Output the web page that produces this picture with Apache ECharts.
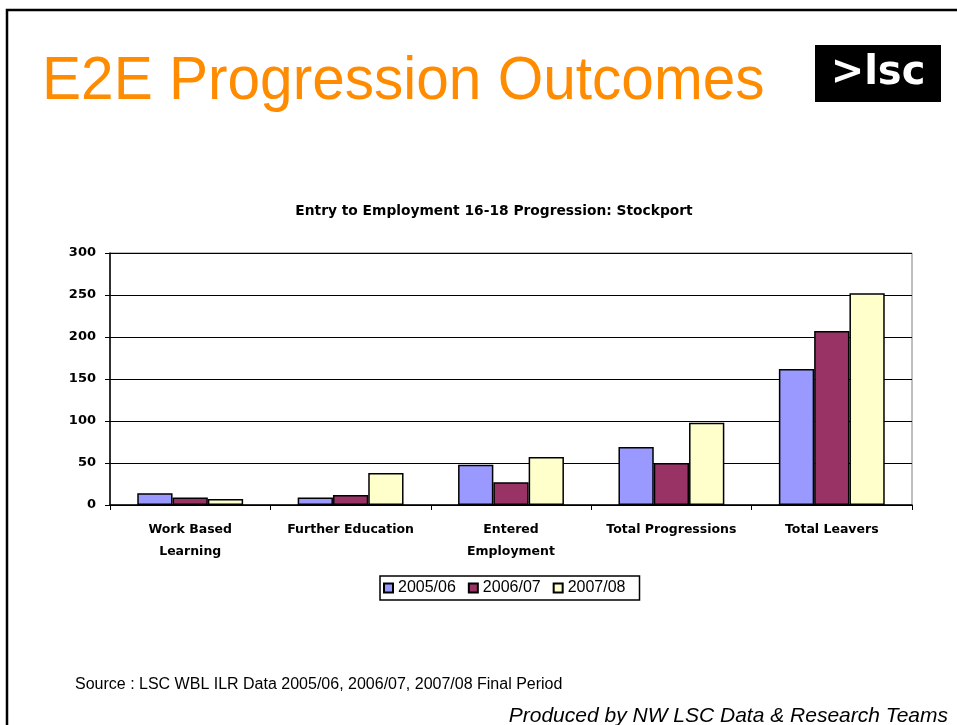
<!DOCTYPE html>
<html>
<head>
<meta charset="utf-8">
<style>
html,body{margin:0;padding:0;background:#fff;}
#chart{width:957px;height:725px;}
</style>
<script src="https://cdn.jsdelivr.net/npm/echarts@6/dist/echarts.min.js"></script>
</head>
<body>
<div id="chart"></div>
<script>
const categories = ['Work Based\nLearning', 'Further Education', 'Entered\nEmployment', 'Total Progressions', 'Total Leavers'];
const seriesNames = ['2005/06', '2006/07', '2007/08'];
const values2005 = [14, 9, 48, 69, 162];
const values2006 = [9, 12, 27, 50, 207];
const values2007 = [7, 38, 57, 98, 252];
const yTicks = [0, 50, 100, 150, 200, 250, 300];

const colors = ['#9999FF', '#993366', '#FFFFCC'];
const allValues = [values2005, values2006, values2007];

const chart = echarts.init(document.getElementById('chart'));
chart.setOption({
  animation: false,
  backgroundColor: '#ffffff',
  title: {
    text: 'Entry to Employment 16-18 Progression: Stockport',
    left: 489, top: 199, textAlign: 'center',
    textStyle: { fontFamily: 'DejaVu Sans', fontSize: 13.8, fontWeight: 'bold', color: '#000' }
  },
  grid: { left: 110, top: 253, width: 802, height: 252, show: true, borderColor: '#808080', borderWidth: 1, backgroundColor: '#ffffff' },
  legend: {
    data: seriesNames,
    left: 380, top: 576,
    itemWidth: 9, itemHeight: 9, itemGap: 12,
    padding: [4, 14, 4, 3],
    borderColor: '#000', borderWidth: 1.5,
    icon: 'rect',
    textStyle: { fontFamily: 'Arial, Liberation Sans', fontSize: 16, color: '#000' }
  },
  xAxis: {
    type: 'category',
    data: categories,
    axisLine: { show: true, lineStyle: { color: '#000', width: 1.5 } },
    axisTick: { show: true, length: 5, lineStyle: { color: '#000' } },
    axisLabel: { interval: 0, fontFamily: 'DejaVu Sans', fontSize: 12.5, fontWeight: 'bold', color: '#000', margin: 14, lineHeight: 22 }
  },
  yAxis: {
    type: 'value', min: yTicks[0], max: yTicks[yTicks.length - 1], interval: 50,
    axisLine: { show: true, lineStyle: { color: '#000', width: 1.5 } },
    axisTick: { show: true, inside: false, length: 5, lineStyle: { color: '#000' } },
    axisLabel: { fontFamily: 'DejaVu Sans', fontSize: 13, fontWeight: 'bold', color: '#000', margin: 14 },
    splitLine: { show: true, lineStyle: { color: '#000', width: 1.2 } }
  },
  series: seriesNames.map((name, i) => ({
    name: name,
    type: 'bar',
    data: allValues[i],
    barGap: '0%',
    barCategoryGap: '34%',
    itemStyle: { color: colors[i], borderColor: '#000', borderWidth: 1.5 }
  })),
  graphic: [
    { type: 'polyline', shape: { points: [[7, 725], [7, 10], [957, 10]] }, style: { stroke: '#000', lineWidth: 2.5, fill: null } },
    { type: 'text', x: 42, y: 52, scaleX: 0.96, style: { text: 'E2E Progression Outcomes', fontFamily: 'Arial, Liberation Sans', fontSize: 61, fill: '#FF8C00' } },
    { type: 'rect', shape: { x: 815, y: 45, width: 126, height: 57 }, style: { fill: '#000' } },
    { type: 'text', x: 878, y: 74, style: { text: '>lsc', fontFamily: 'DejaVu Sans, Arial', fontSize: 40, fontWeight: 'bold', fill: '#fff', align: 'center', verticalAlign: 'middle' } },
    { type: 'text', left: 75, top: 677, style: { text: 'Source : LSC WBL ILR Data 2005/06, 2006/07, 2007/08 Final Period', fontFamily: 'Arial, Liberation Sans', fontSize: 16, fill: '#000' } },
    { type: 'text', right: 9, top: 706, style: { text: 'Produced by NW LSC Data & Research Teams', fontFamily: 'Arial, Liberation Sans', fontSize: 21, fontStyle: 'italic', fill: '#000' } }
  ]
});
</script>
</body>
</html>
